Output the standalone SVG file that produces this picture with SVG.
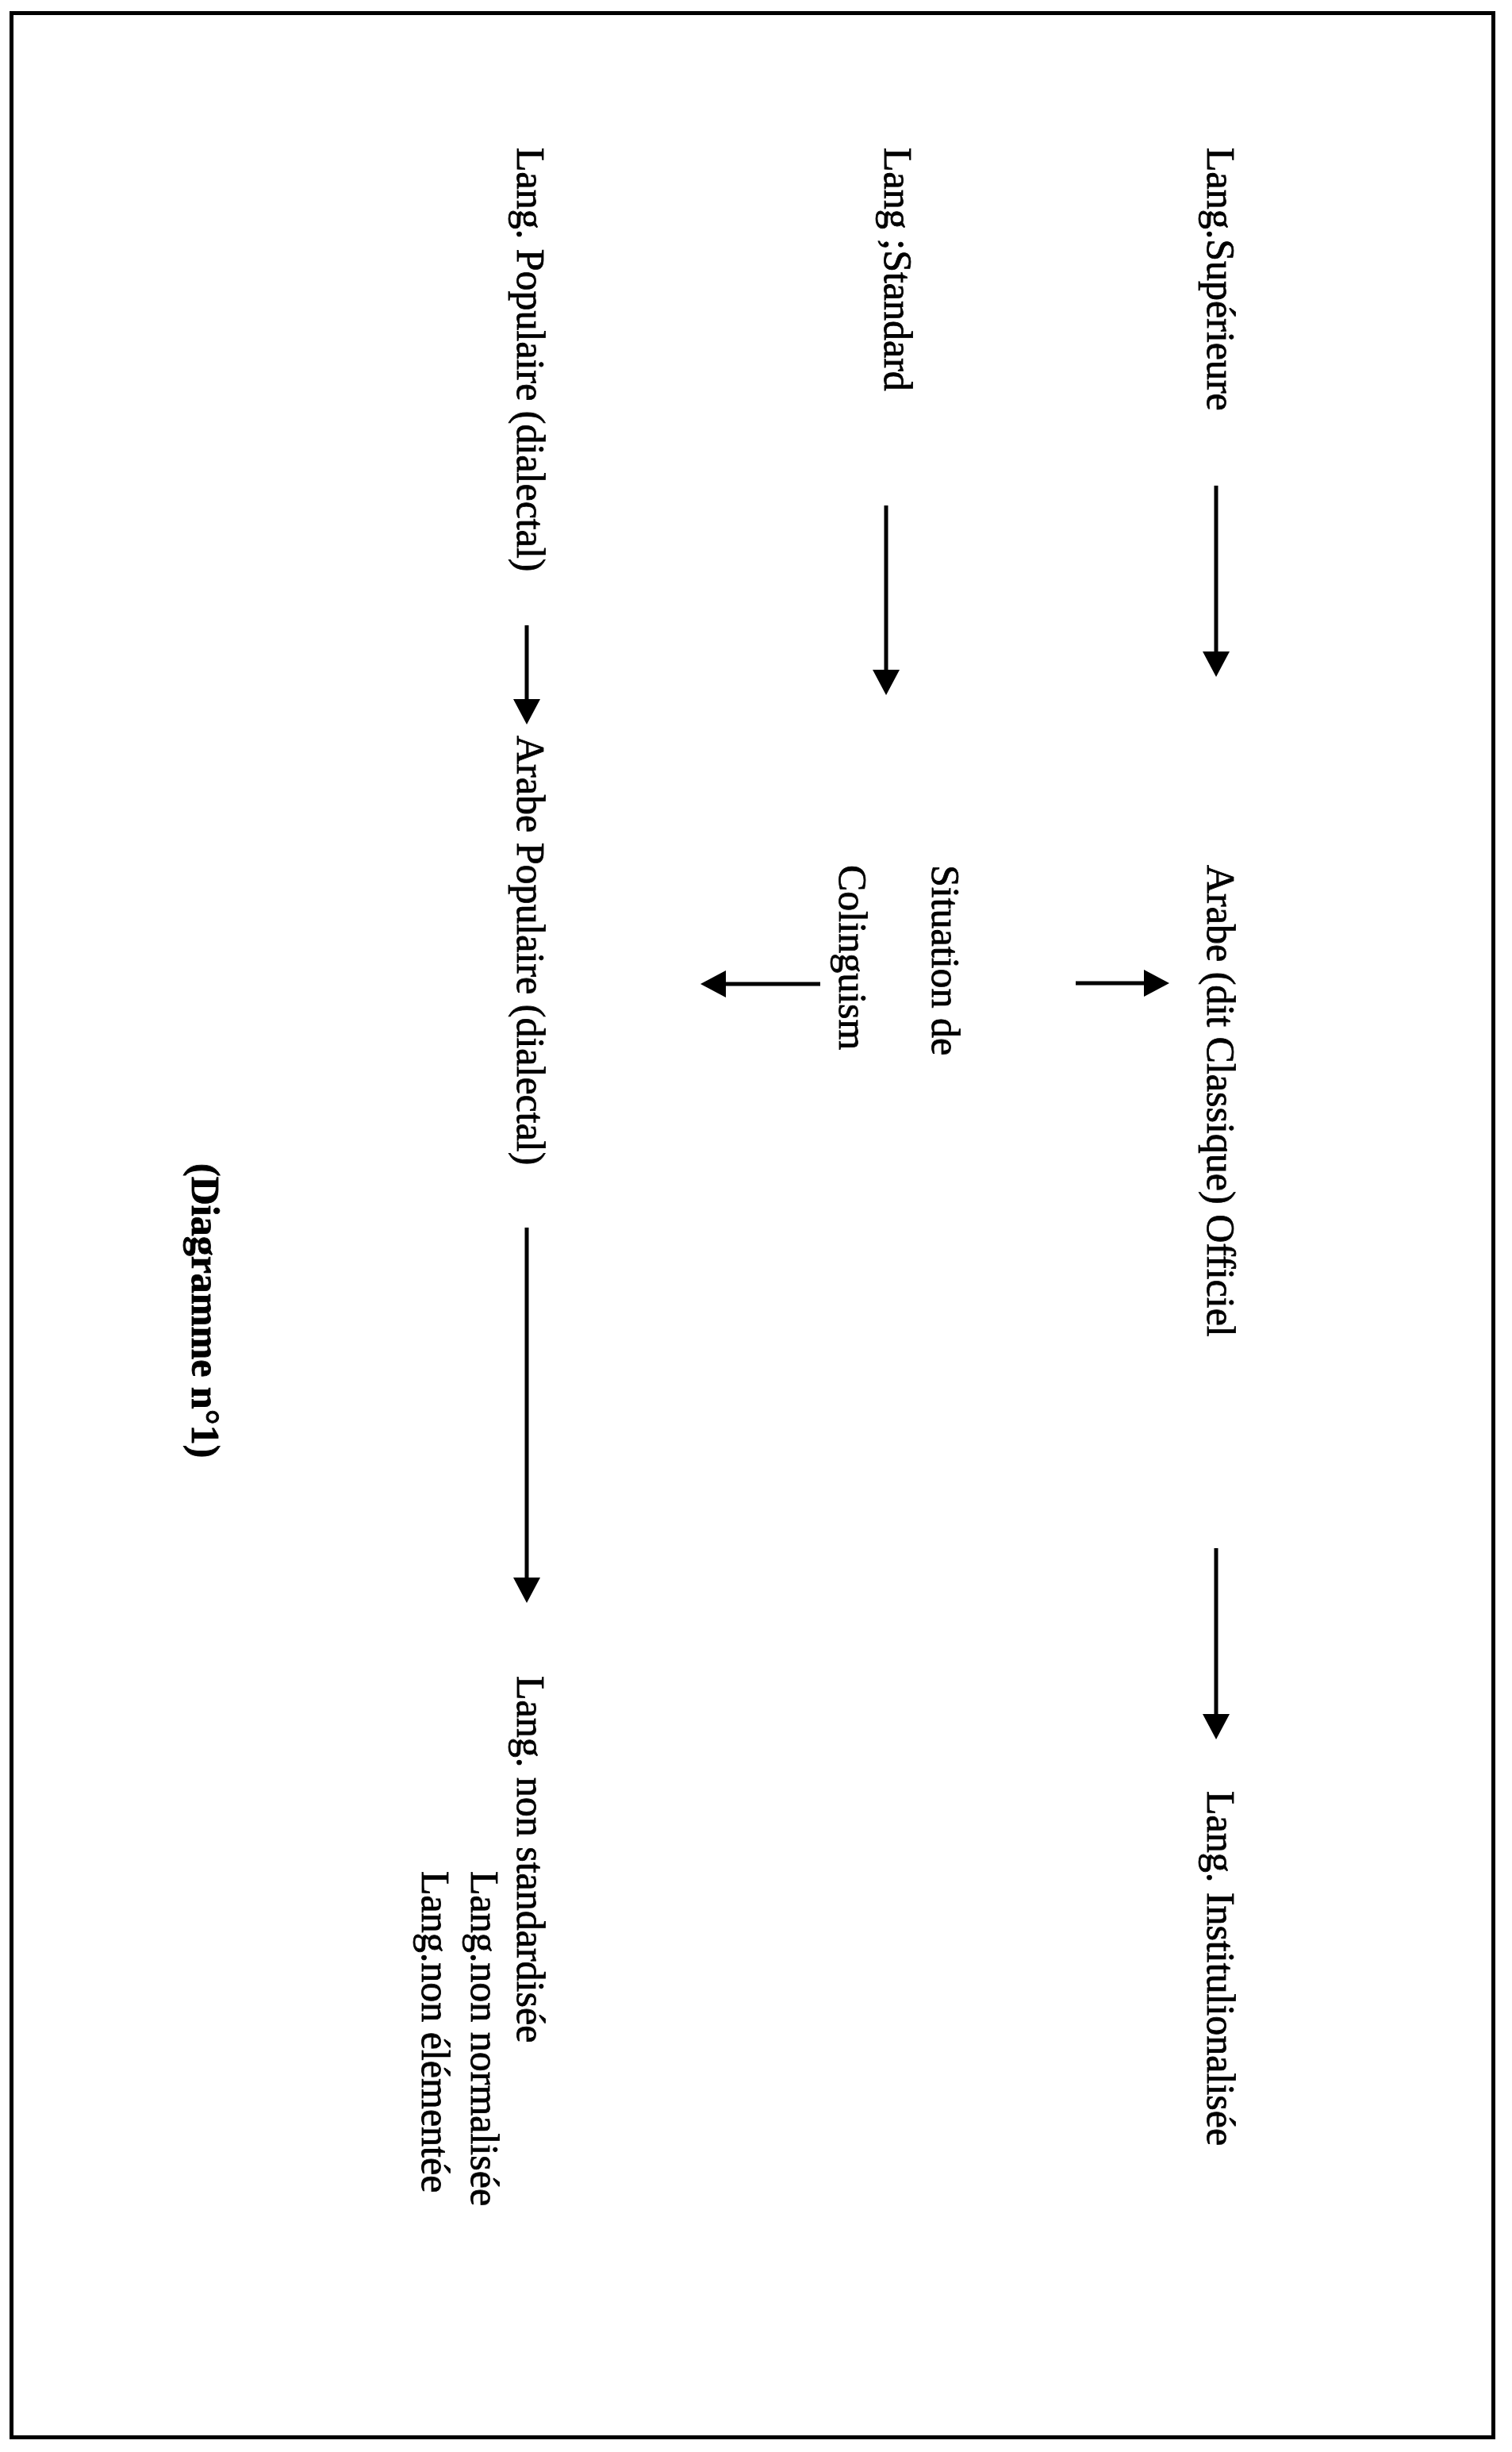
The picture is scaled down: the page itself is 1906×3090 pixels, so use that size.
<svg xmlns="http://www.w3.org/2000/svg" width="1906" height="3090" viewBox="0 0 1906 3090">
<style>
.t{font-family:"Liberation Serif","Times New Roman",serif;font-size:50px;fill:#000;stroke:#000;stroke-width:0.8}
.b{font-weight:bold}
.c{stroke:#000;stroke-width:5;fill:none}
</style>
<defs>
<marker id="ah" viewBox="0 0 32 34" refX="1" refY="17" markerWidth="32" markerHeight="34" orient="auto" markerUnits="userSpaceOnUse">
<path d="M0,0 L32,17 L0,34 Z" fill="#000"/>
</marker>
</defs>
<rect x="14.5" y="16.5" width="1868" height="3055" fill="#fff" stroke="#000" stroke-width="5"/>
<g id="lang-superieure"><text class="t" transform="translate(1522,186) rotate(90)">Lang.Supérieure</text></g>
<g id="arabe-classique"><text class="t" transform="translate(1522,1090) rotate(90)">Arabe (dit Classique) Officiel</text></g>
<g id="lang-institutionalisee"><text class="t" transform="translate(1522,2257) rotate(90)">Lang. Institulionalisée</text></g>
<g id="lang-standard"><text class="t" transform="translate(1115,186) rotate(90)">Lang ;Standard</text></g>
<g id="situation-colinguism">
<text class="t" transform="translate(1175,1090) rotate(90)">Situation de</text>
<text class="t" transform="translate(1058,1090) rotate(90)">Colinguism</text>
</g>
<g id="lang-populaire"><text class="t" transform="translate(652,186) rotate(90)">Lang. Populaire (dialectal)</text></g>
<g id="arabe-populaire"><text class="t" transform="translate(652,927) rotate(90)">Arabe Populaire (dialectal)</text></g>
<g id="lang-non-standardisee">
<text class="t" transform="translate(652,2112) rotate(90)">Lang. non standardisée</text>
<text class="t" transform="translate(594,2358) rotate(90)">Lang.non normalisée</text>
<text class="t" transform="translate(532,2358) rotate(90)">Lang.non élémentée</text>
</g>
<g id="caption"><text class="t b" transform="translate(242,1466) rotate(90)">(Diagramme n°1)</text></g>
<g id="connectors">
<line class="c" x1="1533" y1="612" x2="1533" y2="822" marker-end="url(#ah)"/>
<line class="c" x1="1533" y1="1951" x2="1533" y2="2161" marker-end="url(#ah)"/>
<line class="c" x1="1117" y1="637" x2="1117" y2="845" marker-end="url(#ah)"/>
<line class="c" x1="664" y1="788" x2="664" y2="882" marker-end="url(#ah)"/>
<line class="c" x1="664" y1="1547" x2="664" y2="1989" marker-end="url(#ah)"/>
<line class="c" x1="1356" y1="1239" x2="1443" y2="1239" marker-end="url(#ah)"/>
<line class="c" x1="1034" y1="1240" x2="914" y2="1240" marker-end="url(#ah)"/>
</g>
</svg>
